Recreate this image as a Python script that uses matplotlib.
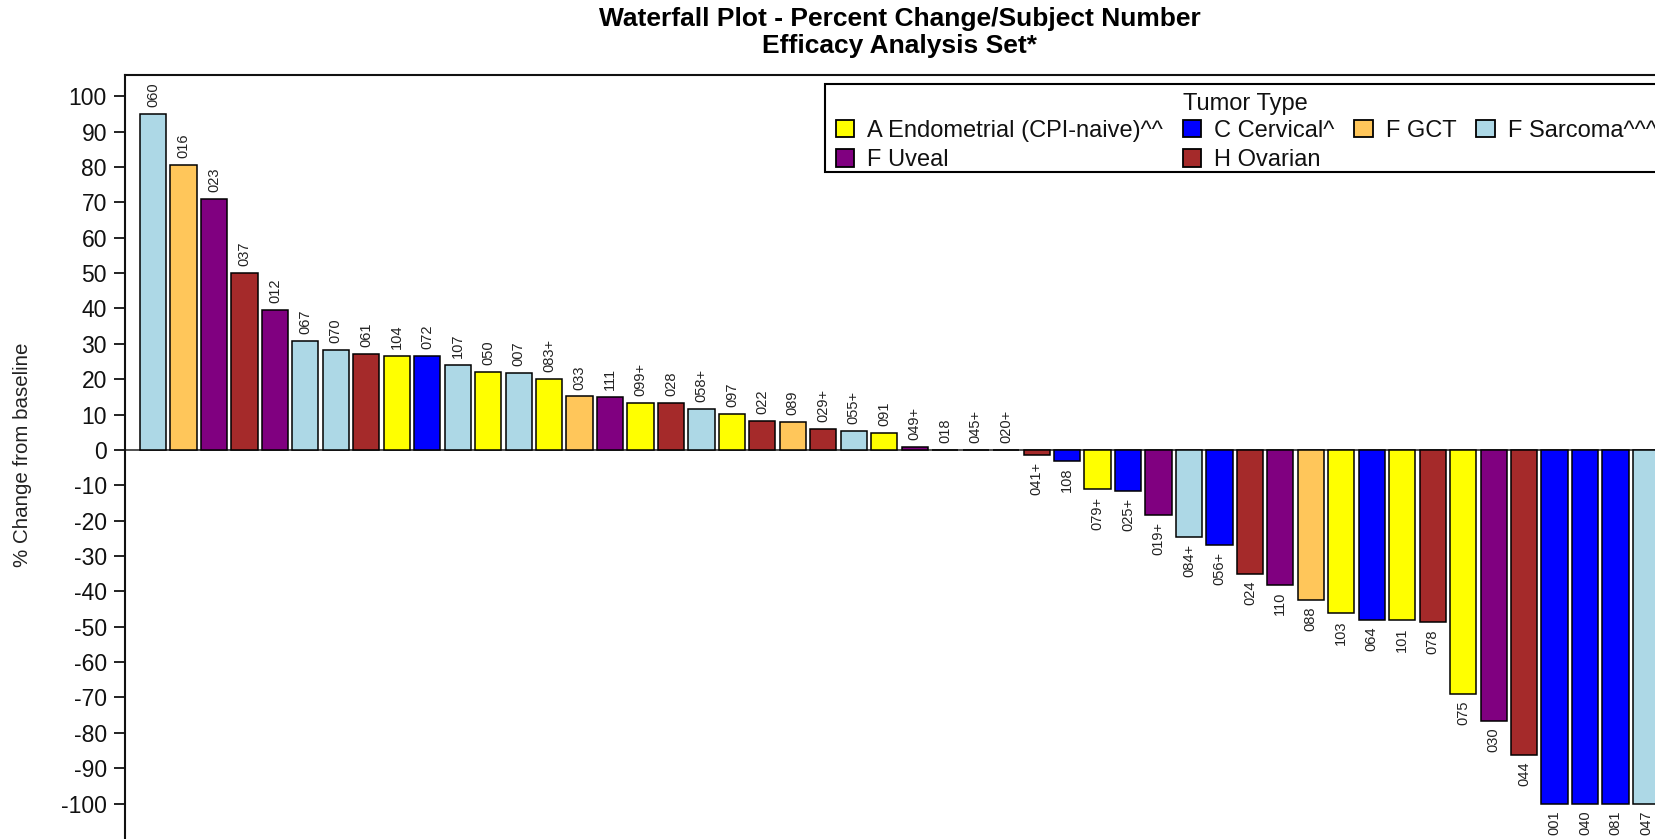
import matplotlib
matplotlib.use("Agg")
import matplotlib.pyplot as plt
from matplotlib.patches import Patch, Rectangle

plt.rcParams['font.family'] = ['Liberation Sans', 'DejaVu Sans']

# Subject numbers in waterfall order
subjects = ["060", "016", "023", "037", "012", "067", "070", "061", "104", "072",
            "107", "050", "007", "083+", "033", "111", "099+", "028", "058+", "097",
            "022", "089", "029+", "055+", "091", "049+", "018", "045+", "020+", "041+",
            "108", "079+", "025+", "019+", "084+", "056+", "024", "110", "088", "103",
            "064", "101", "078", "075", "030", "044", "001", "040", "081", "047"]

# Best percent change from baseline
pct_change = [95.0, 80.5, 71.0, 50.0, 39.5, 30.8, 28.2, 27.0, 26.6, 26.5,
              24.1, 21.9, 21.8, 20.0, 15.1, 14.9, 13.3, 13.3, 11.5, 10.1,
              8.2, 7.9, 5.8, 5.4, 4.9, 0.7, 0.0, 0.0, 0.0, -1.5,
              -3.1, -11.2, -11.6, -18.4, -24.6, -26.9, -35.1, -38.2, -42.4, -46.2,
              -48.0, -48.2, -48.7, -69.0, -76.6, -86.2, -100.0, -100.0, -100.0, -100.0]

# Tumor type per subject
tumor = ["F Sarcoma^^^", "F GCT", "F Uveal", "H Ovarian", "F Uveal",
         "F Sarcoma^^^", "F Sarcoma^^^", "H Ovarian", "A Endometrial (CPI-naive)^^", "C Cervical^",
         "F Sarcoma^^^", "A Endometrial (CPI-naive)^^", "F Sarcoma^^^", "A Endometrial (CPI-naive)^^", "F GCT",
         "F Uveal", "A Endometrial (CPI-naive)^^", "H Ovarian", "F Sarcoma^^^", "A Endometrial (CPI-naive)^^",
         "H Ovarian", "F GCT", "H Ovarian", "F Sarcoma^^^", "A Endometrial (CPI-naive)^^",
         "F Uveal", "A Endometrial (CPI-naive)^^", "A Endometrial (CPI-naive)^^", "A Endometrial (CPI-naive)^^", "H Ovarian",
         "C Cervical^", "A Endometrial (CPI-naive)^^", "C Cervical^", "F Uveal", "F Sarcoma^^^",
         "C Cervical^", "H Ovarian", "F Uveal", "F GCT", "A Endometrial (CPI-naive)^^",
         "C Cervical^", "A Endometrial (CPI-naive)^^", "H Ovarian", "A Endometrial (CPI-naive)^^", "F Uveal",
         "H Ovarian", "C Cervical^", "C Cervical^", "C Cervical^", "F Sarcoma^^^"]

type_names = ["A Endometrial (CPI-naive)^^", "C Cervical^", "F GCT",
              "F Sarcoma^^^", "F Uveal", "H Ovarian"]
type_colors = ["#FFFF00", "#0000FF", "#FFC65A", "#ADD8E6", "#800080", "#A52A2A"]
legend_order = ["A Endometrial (CPI-naive)^^", "F Uveal", "C Cervical^",
                "H Ovarian", "F GCT", "F Sarcoma^^^"]

yticks = list(range(-100, 101, 10))

W, H = 1655, 839
fig = plt.figure(figsize=(W / 100, H / 100), dpi=100)


def fx(px):
    return px / W


def fy(px):
    return 1 - px / H


# axes rectangle in pixels (extends past the right and bottom edges)
ax_left, ax_right, ax_top = 125, 1674, 75
y_top, y_bot = 106, -112
px_per_unit = 3.54
ax_bottom = 449.5 + (-y_bot) * px_per_unit
ax = fig.add_axes([fx(ax_left), fy(ax_bottom),
                   (ax_right - ax_left) / W, (ax_bottom - ax_top) / H])

color_map = dict(zip(type_names, type_colors))
xs = list(range(len(subjects)))
ax.bar(xs, pct_change, width=0.86,
       color=[color_map[t] for t in tumor],
       edgecolor="black", linewidth=1.1, zorder=3)

ax.axhline(0, color="#333333", linewidth=1.2, zorder=2)

for x, v, s in zip(xs, pct_change, subjects):
    if v >= 0:
        ax.annotate(s, (x, v), xytext=(0, 5), textcoords="offset points",
                    rotation=90, ha="center", va="bottom", fontsize=10.5,
                    color="#222222")
    else:
        ax.annotate(s, (x, v), xytext=(0, -5), textcoords="offset points",
                    rotation=90, ha="center", va="top", fontsize=10.5,
                    color="#222222")

ax.set_xlim(-0.92, len(subjects) - 1 + 0.92)
ax.set_ylim(y_bot, y_top)
ax.set_yticks(yticks)
ax.set_yticklabels([str(t) for t in yticks])
ax.set_xticks([])
ax.tick_params(axis="y", direction="out", length=8, width=1.3,
               labelsize=16.5, pad=5, colors="#111111")
for side in ["left", "top", "right", "bottom"]:
    ax.spines[side].set_linewidth(1.5)
    ax.spines[side].set_color("#111111")

fig.text(fx(23), fy(455), "% Change from baseline", rotation=90,
         ha="center", va="center", fontsize=14.8, color="#222222")

title_x = fx((ax_left + ax_right) / 2)
fig.text(title_x, fy(26), "Waterfall Plot - Percent Change/Subject Number",
         ha="center", va="baseline", fontsize=19, fontweight="bold")
fig.text(title_x, fy(53), "Efficacy Analysis Set*",
         ha="center", va="baseline", fontsize=19, fontweight="bold")

# Legend: frame box, title and entries
ax.add_patch(Rectangle((fx(825), fy(172)), fx(1690) - fx(825), fy(84.5) - fy(172),
                       transform=fig.transFigure, facecolor="white",
                       edgecolor="black", linewidth=1.5, zorder=4, clip_on=False))
fig.text(fx(1245.5), fy(110), "Tumor Type", ha="center", va="baseline",
         fontsize=17, color="#111111", zorder=6)

handles = [Patch(facecolor=color_map[n], edgecolor="black", linewidth=1.3, label=n)
           for n in legend_order]
leg = ax.legend(handles=handles, ncol=4,
                loc="upper left", bbox_to_anchor=(fx(836), fy(120)),
                bbox_transform=fig.transFigure, borderaxespad=0,
                fontsize=17, handlelength=0.775,
                handleheight=0.76, handletextpad=0.55, columnspacing=0.84,
                labelspacing=0.31, borderpad=0, frameon=False)
for t in leg.get_texts():
    t.set_color("#111111")
leg.set_zorder(6)

fig.savefig("out.png", dpi=100)
